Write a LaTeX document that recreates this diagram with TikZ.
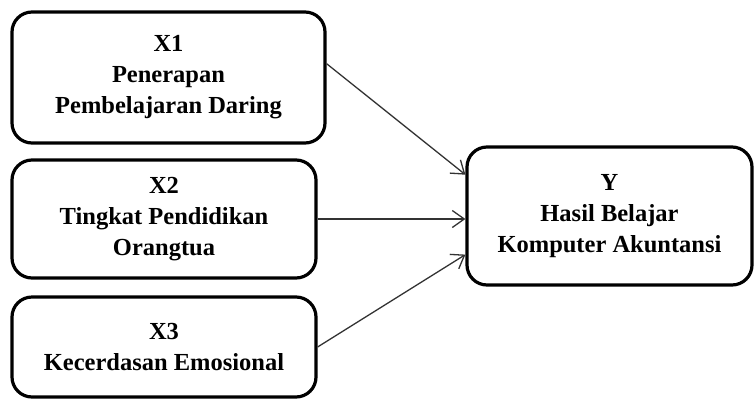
\documentclass[tikz,border=0pt]{standalone}
\usepackage{fontspec}
\setmainfont{Liberation Serif}
\usetikzlibrary{arrows.meta,calc}
\begin{document}
\begin{tikzpicture}[x=1pt,y=-1pt,
  varbox/.style={draw=black,line width=3.2pt,rounded corners=20pt,fill=white,
    align=center,inner sep=0pt,font=\fontsize{24.5}{31}\selectfont\bfseries},
  link/.style={draw=black!80,line width=1.3pt,-{Straight Barb[length=12pt,width=17pt,line width=1.3pt]}}]
\useasboundingbox (0,0) rectangle (755,400);
\node[varbox,minimum width=313pt,minimum height=131pt] (X1) at (168.5,77.5) {X1\\Penerapan\\Pembelajaran Daring};
\node[varbox,minimum width=304pt,minimum height=118pt] (X2) at (164,219) {X2\\Tingkat Pendidikan\\Orangtua};
\node[varbox,minimum width=304pt,minimum height=100pt] (X3) at (164,347) {X3\\Kecerdasan Emosional};
\node[varbox,minimum width=285pt,minimum height=138pt] (Y) at (609.5,216) {Y\\Hasil Belajar\\Komputer Akuntansi};
\draw[link] (X1.5) -- (Y.164);
\draw[link] (X2.east) -- (X2.east -| Y.west);
\draw[link] (X3.east) -- (Y.195);
\end{tikzpicture}
\end{document}
